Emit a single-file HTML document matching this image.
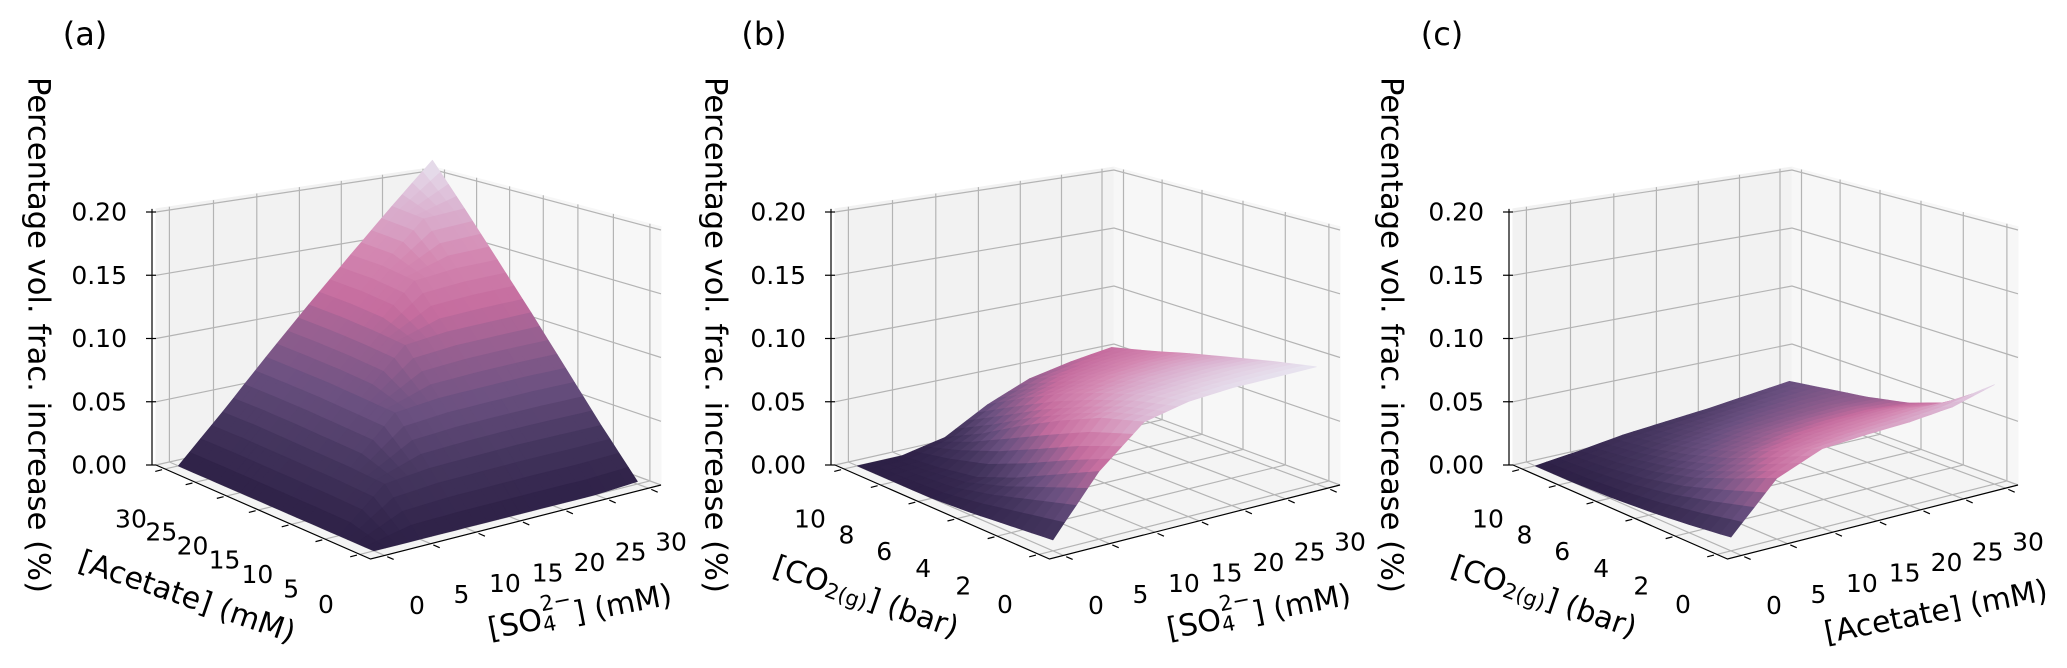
<!DOCTYPE html>
<html><head><meta charset="utf-8"><title>3D surfaces</title>
<style>
html,body{margin:0;padding:0;background:#fff;}
svg{display:block;font-family:"DejaVu Sans","Liberation Sans",sans-serif;}
</style></head>
<body>
<svg id="fig" width="2067" height="668" viewBox="0 0 2067 668" xmlns="http://www.w3.org/2000/svg"></svg>
<script>
// ---------- data ----------
// Panel (a): rows = Acetate (mM), cols = SO4 (mM)
const aRowVals = [0, 5, 10, 15, 20, 25, 30];
const aColVals = [0, 5, 10, 15, 20, 25, 30];
const aZ = [
  [0.000, 0.000, 0.000, 0.000, 0.000, 0.000, 0.002],
  [0.000, 0.030, 0.034, 0.035, 0.036, 0.036, 0.036],
  [0.000, 0.032, 0.066, 0.070, 0.071, 0.072, 0.072],
  [0.000, 0.033, 0.068, 0.102, 0.106, 0.107, 0.108],
  [0.000, 0.034, 0.070, 0.105, 0.138, 0.142, 0.143],
  [0.000, 0.035, 0.071, 0.107, 0.142, 0.175, 0.178],
  [0.000, 0.035, 0.072, 0.108, 0.143, 0.178, 0.212]
];
// Panel (b): rows = CO2 (bar), cols = SO4 (mM)
const bRowVals = [0, 2, 4, 6, 8, 10];
const bColVals = [0, 5, 10, 15, 20, 25, 30];
const bZ = [
  [0.008, 0.050, 0.079, 0.087, 0.090, 0.091, 0.092],
  [0.005, 0.035, 0.070, 0.080, 0.083, 0.085, 0.085],
  [0.002, 0.020, 0.056, 0.070, 0.075, 0.077, 0.077],
  [0.000, 0.008, 0.040, 0.058, 0.065, 0.068, 0.069],
  [0.000, 0.003, 0.022, 0.043, 0.053, 0.058, 0.060],
  [0.000, 0.000, 0.007, 0.026, 0.040, 0.047, 0.052]
];
// Panel (c): rows = CO2 (bar), cols = Acetate (mM)
const cRowVals = [0, 2, 4, 6, 8, 10];
const cColVals = [0, 5, 10, 15, 20, 25, 30];
const cZ = [
  [0.010, 0.045, 0.059, 0.062, 0.064, 0.068, 0.078],
  [0.006, 0.032, 0.045, 0.050, 0.053, 0.055, 0.052],
  [0.003, 0.020, 0.032, 0.038, 0.041, 0.042, 0.040],
  [0.001, 0.012, 0.022, 0.028, 0.031, 0.033, 0.033],
  [0.000, 0.007, 0.014, 0.019, 0.023, 0.026, 0.028],
  [0.000, 0.004, 0.009, 0.012, 0.015, 0.019, 0.023]
];
// tick labels
const zTicks = [0, 0.05, 0.10, 0.15, 0.20];
const zTickLabels = ["0.00", "0.05", "0.10", "0.15", "0.20"];
const mM30Ticks = [0, 5, 10, 15, 20, 25, 30];
const mM30Labels = ["0", "5", "10", "15", "20", "25", "30"];
const co2Ticks = [0, 2, 4, 6, 8, 10];
const co2Labels = ["0", "2", "4", "6", "8", "10"];

// ---------- geometry ----------
const NS = "http://www.w3.org/2000/svg";
const svg = document.getElementById('fig');
const FL = {F:[370.5,559], R:[661,485], B:[435,402], L:[156,465]};
const HS = {F:276, R:255, B:232, L:253};
const ZTOP = 0.2025;
const H = (function(){
  const [x0,y0]=FL.F,[x1,y1]=FL.R,[x2,y2]=FL.B,[x3,y3]=FL.L;
  const dx1=x1-x2,dx2=x3-x2,dx3=x0-x1+x2-x3,dy1=y1-y2,dy2=y3-y2,dy3=y0-y1+y2-y3;
  const den=dx1*dy2-dx2*dy1;
  const g=(dx3*dy2-dx2*dy3)/den, h=(dx1*dy3-dx3*dy1)/den;
  return {a:x1-x0+g*x1,b:x3-x0+h*x3,c:x0,d:y1-y0+g*y1,e:y3-y0+h*y3,f:y0,g:g,h:h};
})();
function proj(ox,u,v,z){
  const w=H.g*u+H.h*v+1;
  const x=(H.a*u+H.b*v+H.c)/w, y=(H.d*u+H.e*v+H.f)/w;
  const hs=HS.F*(1-u)*(1-v)+HS.R*u*(1-v)+HS.B*u*v+HS.L*(1-u)*v;
  return [ox+x, y-z/0.2*hs];
}
function el(tag,attrs,parent){
  const e=document.createElementNS(NS,tag);
  for(const k in attrs) e.setAttribute(k,attrs[k]);
  (parent||svg).appendChild(e); return e;
}
function pts(arr){return arr.map(p=>p[0].toFixed(1)+','+p[1].toFixed(1)).join(' ');}

const CMAP=[[0,[45,32,70]],[0.15,[69,54,95]],[0.3,[106,80,128]],[0.45,[154,97,146]],[0.55,[197,108,158]],[0.7,[212,136,178]],[0.85,[219,181,210]],[1,[232,230,241]]];
function cmap(t){
  t=Math.max(0,Math.min(1,t));
  for(let i=1;i<CMAP.length;i++){ if(t<=CMAP[i][0]){
    const [t0,c0]=CMAP[i-1],[t1,c1]=CMAP[i]; const f=(t-t0)/(t1-t0);
    return 'rgb('+c0.map((c,k)=>Math.round(c+(c1[k]-c)*f)).join(',')+')';}}
  return 'rgb(232,230,241)';
}

function panel(ox, letter, rowVals, colVals, Z, rowRange, colRange, rowTicks, rowLabels, colTicks, colLabels, leftLabel, rightLabel, rightAngle, rightX){
  const g=el('g',{});  
  const U=c=>(c-colRange[0])/(colRange[1]-colRange[0]);
  const V=r=>(r-rowRange[0])/(rowRange[1]-rowRange[0]);
  const P=(u,v,z)=>proj(ox,u,v,z);
  const lw=el('polygon',{points:pts([P(0,1,0),P(1,1,0),P(1,1,ZTOP),P(0,1,ZTOP)]),fill:'#f2f2f2',stroke:'#f2f2f2'},g);
   
  const rw=el('polygon',{points:pts([P(1,0,0),P(1,1,0),P(1,1,ZTOP),P(1,0,ZTOP)]),fill:'#f7f7f7',stroke:'#f7f7f7'},g);
   
  const fl=el('polygon',{points:pts([P(0,0,0),P(1,0,0),P(1,1,0),P(0,1,0)]),fill:'#f4f4f4',stroke:'#f4f4f4'},g);
   
  const grid=el('g',{stroke:'#b4b4b4','stroke-width':'1.2',fill:'none'},g);
   
  colTicks.forEach(t=>{const u=U(t);
    el('polyline',{points:pts([P(u,1,0),P(u,1,ZTOP)])},grid);
    el('polyline',{points:pts([P(u,0,0),P(u,1,0)])},grid);});
  rowTicks.forEach(t=>{const v=V(t);
    el('polyline',{points:pts([P(1,v,0),P(1,v,ZTOP)])},grid);
    el('polyline',{points:pts([P(0,v,0),P(1,v,0)])},grid);});
  zTicks.forEach(z=>{
    el('polyline',{points:pts([P(0,1,z),P(1,1,z),P(1,0,z)])},grid);});
  const surf=el('g',{},g);
   
  let zmin=Infinity,zmax=-Infinity; Z.forEach(r=>r.forEach(z=>{zmin=Math.min(zmin,z);zmax=Math.max(zmax,z);}));
  const n=4, quads=[];
  for(let i=0;i<rowVals.length-1;i++) for(let j=0;j<colVals.length-1;j++){
    for(let a=0;a<n;a++) for(let b=0;b<n;b++){
      const corners=[[a,b],[a,b+1],[a+1,b+1],[a+1,b]].map(([ia,ib])=>{
        const fr=ia/n, fc=ib/n;
        const z=Z[i][j]*(1-fr)*(1-fc)+Z[i][j+1]*(1-fr)*fc+Z[i+1][j]*fr*(1-fc)+Z[i+1][j+1]*fr*fc;
        const rv=rowVals[i]+(rowVals[i+1]-rowVals[i])*fr, cv=colVals[j]+(colVals[j+1]-colVals[j])*fc;
        return {u:U(cv),v:V(rv),z:z};});
      const zc=corners.reduce((s,c)=>s+c.z,0)/4;
      const depth=corners.reduce((s,c)=>s+c.u+c.v,0)/4;
      quads.push({corners,zc,depth});
    }
  }
  quads.sort((p,q)=>q.depth-p.depth);
  quads.forEach(q=>{
    const col=cmap((q.zc-zmin)/(zmax-zmin));
    const poly=el('polygon',{points:pts(q.corners.map(c=>P(c.u,c.v,c.z))),fill:col,stroke:col,'stroke-width':'0.7','stroke-linejoin':'round'},surf);
    
    
  });
  const ax=el('g',{stroke:'#000','stroke-width':'1.2',fill:'none'},g);
   
  const L0=P(0,1,0);
  el('line',{x1:L0[0]-4,y1:L0[1],x2:L0[0]-4,y2:P(0,1,ZTOP)[1]},ax);
  el('polyline',{points:pts([P(0,1,0),P(0,0,0),P(1,0,0)])},ax);
  const txt=el('g',{'font-size':'25',fill:'#000'},g);
   
  zTicks.forEach((z,k)=>{const p=P(0,1,z);
    el('line',{x1:p[0]-10,y1:p[1],x2:p[0],y2:p[1]},ax);
    const t=el('text',{x:ox+127,y:p[1],'text-anchor':'end','dominant-baseline':'central'},txt);
    t.textContent=zTickLabels[k];
     });
  const du=[FL.F[0]-FL.R[0],FL.F[1]-FL.R[1]], dl=Math.hypot(du[0],du[1]);
  rowTicks.forEach((r,k)=>{const v=V(r); const p=P(0,v,0);
    el('line',{x1:p[0]+du[0]/dl*3,y1:p[1]+du[1]/dl*3,x2:p[0]+du[0]/dl*10,y2:p[1]+du[1]/dl*10},ax);
    const t=el('text',{x:p[0]-34,y:p[1]+50,'text-anchor':'middle','dominant-baseline':'central'},txt);
    t.textContent=rowLabels[k];
     });
  const dv=[FL.F[0]-FL.L[0],FL.F[1]-FL.L[1]], dvl=Math.hypot(dv[0],dv[1]);
  colTicks.forEach((c,k)=>{const u=U(c); const p=P(u,0,0);
    el('line',{x1:p[0]+dv[0]/dvl*3,y1:p[1]+dv[1]/dvl*3,x2:p[0]+dv[0]/dvl*10,y2:p[1]+dv[1]/dvl*10},ax);
    const t=el('text',{x:p[0]+33-11*u,y:p[1]+50+4*u,'text-anchor':'middle','dominant-baseline':'central'},txt);
    t.textContent=colLabels[k];
     });
  const lt=el('text',{x:ox+85,y:34,'font-size':'32','text-anchor':'middle','dominant-baseline':'central'},g);
  lt.textContent='('+letter+')';
   
  const yl=el('text',{transform:'translate('+(ox+37-(letter==='a'?-1:letter==='b'?1:3))+',335) rotate(90)','font-size':'30','text-anchor':'middle','dominant-baseline':'central',textLength:'516',lengthAdjust:'spacingAndGlyphs'},g);
  yl.textContent='Percentage vol. frac. increase (%)';
   
  const ll=el('g',{transform:'translate('+(ox+187)+',597) rotate(19)'},g);
   
  ll.innerHTML=leftLabel;
  const rl=el('g',{transform:'translate('+(ox+rightX)+',612) rotate('+rightAngle+')'},g);
   
  rl.innerHTML=rightLabel;
}

const ACET='<text font-size="30" text-anchor="middle" dominant-baseline="central">[Acetate] (mM)</text>';
const SO4='<text font-size="30" text-anchor="middle" dominant-baseline="central">[SO<tspan font-size="21" baseline-shift="-30%">4</tspan><tspan font-size="21" dx="-12" baseline-shift="70%">2−</tspan><tspan>] (mM)</tspan></text>';
const CO2='<text font-size="30" text-anchor="middle" dominant-baseline="central">[CO<tspan font-size="21" baseline-shift="-30%">2(g)</tspan><tspan>] (bar)</tspan></text>';

panel(0,'a',aRowVals,aColVals,aZ,[-1.5,31.5],[-1.5,31.5],mM30Ticks,mM30Labels,mM30Ticks,mM30Labels,ACET,SO4,-11,580);
panel(679,'b',bRowVals,bColVals,bZ,[-0.5,10.5],[-1.5,31.5],co2Ticks,co2Labels,mM30Ticks,mM30Labels,CO2,SO4,-11,580);
panel(1357,'c',cRowVals,cColVals,cZ,[-0.5,10.5],[-1.5,31.5],co2Ticks,co2Labels,mM30Ticks,mM30Labels,CO2,ACET,-11,579);
</script>
</body></html>
